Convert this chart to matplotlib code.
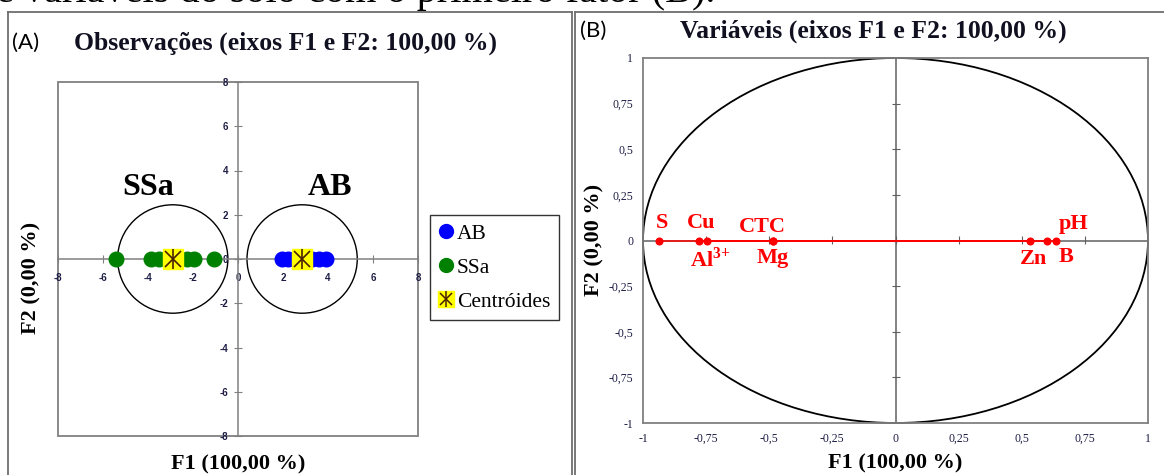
import matplotlib
matplotlib.use("Agg")
import matplotlib.pyplot as plt
from matplotlib.lines import Line2D
from matplotlib.patches import Circle, Rectangle

plt.rcParams["axes.unicode_minus"] = False
plt.rcParams["mathtext.fontset"] = "custom"
plt.rcParams["mathtext.rm"] = "Liberation Serif"
plt.rcParams["mathtext.bf"] = "Liberation Serif:bold"

# data
ab_f1 = [1.95, 2.2, 2.5, 2.8, 3.3, 3.6, 3.9]
ssa_f1 = [-5.4, -3.85, -3.5, -3.1, -2.25, -1.95, -1.05]
centroids_f1 = [-2.9, 2.85]
circle_r = 2.45
group_names = ["SSa", "AB"]
group_label_pos = [(-4.0, 3.25), (4.1, 3.25)]

var_names = ["S", "Cu", r"Al$^\mathbf{3{+}}$", "CTC", "Mg", "Zn", "B", "pH"]
var_f1 = [-0.937, -0.78, -0.748, -0.486, -0.486, 0.533, 0.601, 0.634]
var_f2 = [0, 0, 0, 0, 0, 0, 0, 0]
# label offsets in pixels
var_offsets = [(3, 17), (3, 17), (4, -19), (-10, 13), (0, -17), (3, -18), (19, -17), (18, 17)]

ticks_a = [-8, -6, -4, -2, 0, 2, 4, 6, 8]
ticks_b = [-1, -0.75, -0.5, -0.25, 0, 0.25, 0.5, 0.75, 1]
ticklabels_b = ["-1", "-0,75", "-0,5", "-0,25", "0", "0,25", "0,5", "0,75", "1"]

serif = "Liberation Serif"
gray = "#808080"
navy = "#1c1c44"

fig = plt.figure(figsize=(11.64, 4.75), dpi=100)
W, H = 1164, 475

def fx(px):
    return px / W

def fy(py):
    return 1 - py / H

# cut off caption line at the very top
fig.text(fx(-4), fy(2), "e variáveis do solo com o primeiro fator (B).", family=serif,
         fontsize=29, va="baseline", ha="left")

# panel borders
for xs, ys in [([8, 8], [12, 480]), ([8, 572], [12, 12]), ([572, 572], [12, 480]),
               ([575, 575], [12, 480]), ([575, 1170], [12, 12])]:
    fig.add_artist(Line2D([fx(x) for x in xs], [fy(y) for y in ys], color="#6e6e6e", lw=1.3))

# ---------- (A) observations ----------
axA = fig.add_axes([fx(58), fy(436), fx(418) - fx(58), fy(82) - fy(436)])
axA.set_xlim(-8, 8)
axA.set_ylim(-8, 8)
for s in ["top", "right"]:
    axA.spines[s].set_visible(False)
axA.spines["left"].set_position(("data", 0))
axA.spines["bottom"].set_position(("data", 0))
for s in ["left", "bottom"]:
    axA.spines[s].set_color(gray)
    axA.spines[s].set_linewidth(1.1)
axA.add_patch(Rectangle((0, 0), 1, 1, transform=axA.transAxes, fill=False,
                        ec=gray, lw=1.3, clip_on=False))
axA.set_xticks(ticks_a)
axA.set_yticks(ticks_a)
axA.tick_params(direction="inout", length=6, width=0.8, color=gray, pad=4,
                labelsize=7, labelcolor=navy)
axA.tick_params(axis="x", pad=7)
for lab in axA.get_xticklabels() + axA.get_yticklabels():
    lab.set_fontweight("bold")
    lab.set_family("Liberation Sans")

for cx in centroids_f1:
    axA.add_patch(Circle((cx, 0), circle_r, fill=False, ec="black", lw=1.0))
for name, (gx, gy) in zip(group_names, group_label_pos):
    axA.text(gx, gy, name, family=serif, fontweight="bold", fontsize=23, ha="center", va="center")

axA.plot(ab_f1, [0] * len(ab_f1), "o", color="#0000ff", ms=10.5, zorder=3)
axA.plot(ssa_f1, [0] * len(ssa_f1), "o", color="#008000", ms=10.5, zorder=3)
axA.plot(centroids_f1, [0, 0], "s", color="#ffff00", ms=14, mec="#ffff00", zorder=4)
axA.plot(centroids_f1, [0, 0], "x", color="#4a2000", ms=12, mew=1.2, zorder=5)
axA.plot(centroids_f1, [0, 0], "|", color="#4a2000", ms=14, mew=1.2, zorder=5)

fig.text(fx(12), fy(43), "(A)", family="Lato", fontsize=16, va="center")
fig.text(fx(74), fy(43), "Observações (eixos F1 e F2: 100,00 %)", family=serif,
         fontweight="bold", fontsize=18.5, va="center", color="#101020")
fig.text(fx(238), fy(464), "F1 (100,00 %)", family=serif, fontweight="bold",
         fontsize=16, ha="center", va="center")
fig.text(fx(31), fy(278), "F2 (0,00 %)", family=serif, fontweight="bold",
         fontsize=16, ha="center", va="center", rotation=90)

h_ab = Line2D([], [], ls="", marker="o", color="#0000ff", ms=10)
h_ssa = Line2D([], [], ls="", marker="o", color="#008000", ms=10)
h_c = (Line2D([], [], ls="", marker="s", color="#ffff00", ms=11),
       Line2D([], [], ls="", marker="x", color="#4a2000", ms=9, mew=1.1),
       Line2D([], [], ls="", marker="|", color="#4a2000", ms=11, mew=1.1))
fig.legend([h_ab, h_ssa, h_c], ["AB", "SSa", "Centróides"], loc="upper left",
           bbox_to_anchor=(fx(430), fy(215)), prop={"family": serif, "size": 15.5},
           frameon=True, fancybox=False, edgecolor="black", handlelength=0.7,
           handletextpad=0.15, borderpad=0.4, labelspacing=0.65, borderaxespad=0)

# ---------- (B) variables ----------
axB = fig.add_axes([fx(643), fy(423), fx(1148) - fx(643), fy(58) - fy(423)])
axB.set_xlim(-1, 1)
axB.set_ylim(-1, 1)
for s in axB.spines.values():
    s.set_color(gray)
    s.set_linewidth(1.3)
axB.set_xticks(ticks_b)
axB.set_xticklabels(ticklabels_b)
axB.set_yticks(ticks_b)
axB.set_yticklabels(ticklabels_b)
axB.tick_params(length=0, pad=7, labelsize=8.5, labelcolor=navy)
for lab in axB.get_xticklabels() + axB.get_yticklabels():
    lab.set_family(serif)

axB.axhline(0, color="#606060", lw=1.1, zorder=1)
axB.axvline(0, color="#606060", lw=1.1, zorder=1)
secx = axB.secondary_xaxis(0.5)
secx.set_xticks(ticks_b[1:-1])
secx.tick_params(direction="inout", length=6, width=0.8, color="#606060",
                 labeltop=False, labelbottom=False)
for s in secx.spines.values():
    s.set_visible(False)
secy = axB.secondary_yaxis(0.5)
secy.set_yticks(ticks_b[1:-1])
secy.tick_params(direction="inout", length=6, width=0.8, color="#606060",
                 labelleft=False, labelright=False)
for s in secy.spines.values():
    s.set_visible(False)

axB.add_patch(Circle((0, 0), 1, fill=False, ec="black", lw=1.3, clip_on=False))

for x, y in zip(var_f1, var_f2):
    axB.plot([0, x], [0, y], color="#ff0000", lw=1.1, zorder=3)
axB.plot(var_f1, var_f2, "o", color="#ff0000", ms=4.8, zorder=4)
for name, x, y, off in zip(var_names, var_f1, var_f2, var_offsets):
    axB.annotate(name, (x, y), xytext=off, textcoords="offset pixels", ha="center",
                 va="center", family=serif, fontweight="bold", fontsize=16,
                 color="#ff0000", zorder=5)

fig.text(fx(580), fy(31), "(B)", family="Lato", fontsize=16, va="center")
fig.text(fx(873), fy(31), "Variáveis (eixos F1 e F2: 100,00 %)", family=serif,
         fontweight="bold", fontsize=18.5, ha="center", va="center", color="#101020")
fig.text(fx(895), fy(463), "F1 (100,00 %)", family=serif, fontweight="bold",
         fontsize=16, ha="center", va="center")
fig.text(fx(594), fy(240), "F2 (0,00 %)", family=serif, fontweight="bold",
         fontsize=16, ha="center", va="center", rotation=90)

fig.savefig("out.png", dpi=100)
